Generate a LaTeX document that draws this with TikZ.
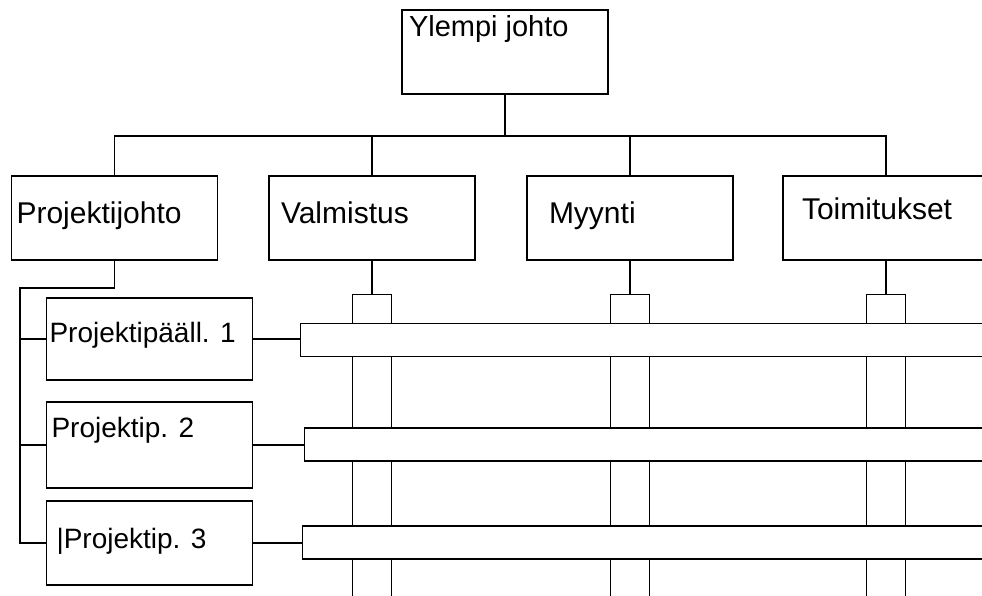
\documentclass[tikz,border=0pt]{standalone}
\usepackage{fontspec}
\setmainfont{Liberation Sans}
\usetikzlibrary{positioning}

\begin{document}
\begin{tikzpicture}[x=1pt, y=-1pt, line width=1.2pt,
    box/.style={draw, fill=white, minimum width=206pt, minimum height=84pt, inner sep=0pt},
    lbl/.style={anchor=base west, inner sep=0pt, font=\fontsize{29}{34}\selectfont},
    plbl/.style={anchor=base west, inner sep=0pt, font=\fontsize{28}{32}\selectfont},
    column/.style={draw, fill=white, minimum width=39pt, minimum height=320pt, inner sep=0pt, anchor=north},
    bar/.style={draw, fill=white, minimum width=720pt, minimum height=33pt, inner sep=0pt, anchor=west}]
          \useasboundingbox[clip] (0,0) rectangle (982,595);
          \fill[white] (0,0) rectangle (982,595);

          % top level
          \node[box] (ylempi) at (505,52) {};
          \node[lbl] (ylempit) at ([shift={(7,27)}]ylempi.north west) {Ylempi johto};

          % second row
          \node[box] (pjohto) at (114.5,218) {};
          \node[box] (valm) at (372,218) {};
          \node[box] (myynti) at (630,218) {};
          \node[box] (toim) at (886,218) {};
          \node[lbl, font=\fontsize{30}{34}\selectfont] (pjohtot) at ([shift={(5,48)}]pjohto.north west) {Projektijohto};
          \node[lbl, font=\fontsize{30}{34}\selectfont] (valmt) at ([shift={(12,48)}]valm.north west) {Valmistus};
          \node[lbl, font=\fontsize{30}{34}\selectfont] (myyntit) at ([shift={(22,48)}]myynti.north west) {Myynti};
          \node[lbl, font=\fontsize{30}{34}\selectfont] (toimt) at ([shift={(19,44)}]toim.north west) {Toimitukset};

          \coordinate (bus) at (505,136);
          \draw (ylempi.south) -- (bus);
          \draw (pjohto.north) |- (bus) -| (toim.north);
          \draw (valm.north) -- (valm.north |- bus);
          \draw (myynti.north) -- (myynti.north |- bus);

          % columns
          \node[column] (colv) at (372,294) {};
          \node[column] (colm) at (630,294) {};
          \node[column] (colt) at (886,294) {};
          \draw (valm.south) -- (colv.north);
          \draw (myynti.south) -- (colm.north);
          \draw (toim.south) -- (colt.north);

          % project bars
          \node[bar] (bar1) at (300,340) {};
          \node[bar] (bar2) at (304,444.5) {};
          \node[bar] (bar3) at (302,542.5) {};

          % project managers
          \node[box, minimum height=82pt] (pp1) at (149.5,339) {};
          \node[box, minimum height=86pt] (pp2) at (149.5,445) {};
          \node[box] (pp3) at (149.5,543) {};
          \node[plbl] (pp1t) at ([shift={(3,45)}]pp1.north west) {Projektipääll. 1};
          \node[plbl] (pp2t) at ([shift={(5,36)}]pp2.north west) {Projektip. 2};
          \node[plbl] (pp3t) at ([shift={(10,48)}]pp3.north west) {|Projektip. 3};

          \coordinate (trunk) at (20,288);
          \draw (pjohto.south) |- (trunk) |- (pp3.west);
          \draw (trunk |- pp1.west) -- (pp1.west);
          \draw (trunk |- pp2.west) -- (pp2.west);

          \draw (pp1.east) -- (pp1.east -| bar1.west);
          \draw (pp2.east) -- (pp2.east -| bar2.west);
          \draw (pp3.east) -- (pp3.east -| bar3.west);
        \end{tikzpicture}
\end{document}
